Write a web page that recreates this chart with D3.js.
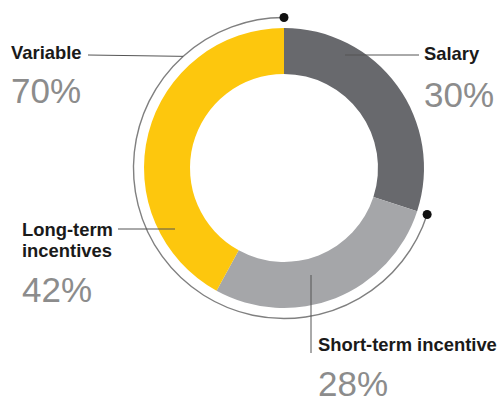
<!DOCTYPE html>
<html>
<head>
<meta charset="utf-8">
<script src="https://cdn.jsdelivr.net/npm/d3@7"></script>
<style>
  html, body { margin: 0; padding: 0; background: #ffffff; }
  svg { display: block; }
  text { font-family: "Liberation Sans", Arial, sans-serif; }
</style>
</head>
<body>
<svg id="chart" width="501" height="398"></svg>
<script>
// Pay mix components (percent of total)
const categories = ["Salary", "Short-term incentive", "Long-term incentives"];
const values = [30, 28, 42];
const colors = ["#68696d", "#a5a6a9", "#fdc70d"];

// Grouping shown by the outer bracket arc
const groupName = "Variable";
const groupMembers = ["Short-term incentive", "Long-term incentives"];
const groupValue = d3.sum(groupMembers.map(m => values[categories.indexOf(m)]));

const svg = d3.select("#chart");
const cx = 284, cy = 168;
const rOuter = 140, rInner = 94, rBracket = 150.5;

const g = svg.append("g").attr("transform", `translate(${cx},${cy})`);

const pie = d3.pie().sort(null).value(d => d.value).startAngle(0).endAngle(2 * Math.PI);
const slices = pie(categories.map((c, i) => ({ name: c, value: values[i], color: colors[i] })));

const arc = d3.arc().innerRadius(rInner).outerRadius(rOuter);
g.selectAll("path.slice")
  .data(slices)
  .join("path")
  .attr("class", "slice")
  .attr("d", arc)
  .attr("fill", d => d.data.color);

// Outer bracket arc spanning the variable components
const memberSlices = slices.filter(s => groupMembers.includes(s.data.name));
const bStart = d3.min(memberSlices, s => s.startAngle);
const bEnd = d3.max(memberSlices, s => s.endAngle);
g.append("path")
  .attr("d", d3.arc()({ innerRadius: rBracket, outerRadius: rBracket, startAngle: bStart, endAngle: bEnd }))
  .attr("fill", "none")
  .attr("stroke", "#808080")
  .attr("stroke-width", 1.4);
[bStart, bEnd].forEach(a => {
  g.append("circle")
    .attr("cx", rBracket * Math.sin(a))
    .attr("cy", -rBracket * Math.cos(a))
    .attr("r", 4.5)
    .attr("fill", "#111111");
});

// Labels and leader lines
const leader = (x1, y1, x2, y2) => svg.append("line")
  .attr("x1", x1).attr("y1", y1).attr("x2", x2).attr("y2", y2)
  .attr("stroke", "#555555").attr("stroke-width", 1);

const name = (x, y, t) => svg.append("text")
  .attr("x", x).attr("y", y).text(t)
  .attr("font-size", 18.4).attr("font-weight", "bold").attr("fill", "#1a1a1a");

const pct = (x, y, v) => svg.append("text")
  .attr("x", x).attr("y", y).text(v + "%")
  .attr("font-size", 35).attr("fill", "#8c8c8c");

// Variable (group)
name(11, 59, groupName);
pct(11, 103, groupValue);
leader(88, 55, cx + rBracket * Math.sin(-0.735), cy - rBracket * Math.cos(-0.735));

// Salary
name(424, 60, categories[0]);
pct(424, 107, values[0]);
leader(345, 55, 419, 55);

// Long-term incentives
name(22, 236, "Long-term");
name(22, 257, "incentives");
pct(22, 302, values[2]);
leader(118, 229, 175, 229);

// Short-term incentive
name(318, 351, categories[1]);
pct(318, 396, values[1]);
leader(311, 275, 311, 353);
</script>
</body>
</html>
